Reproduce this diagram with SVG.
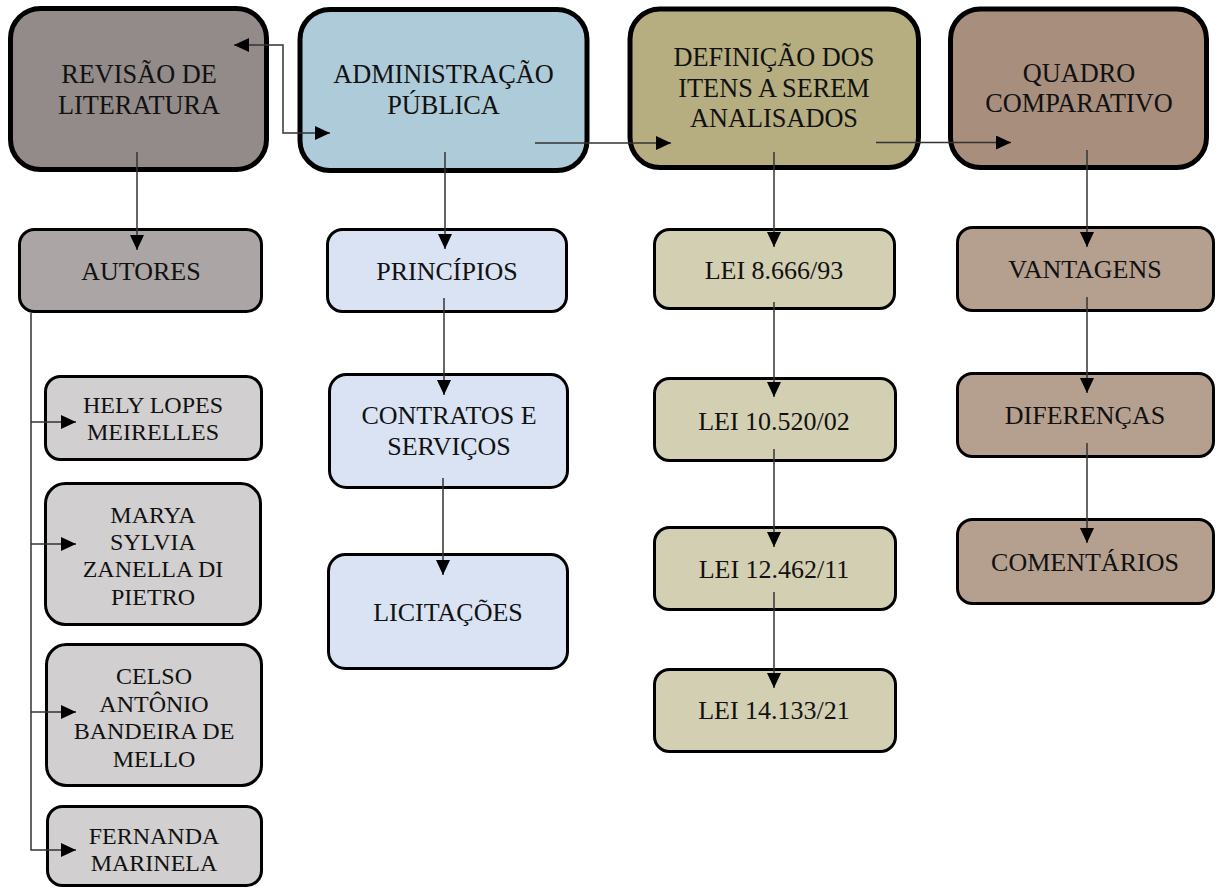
<svg xmlns="http://www.w3.org/2000/svg" width="1216" height="888" viewBox="0 0 1216 888">
<style>
.top{stroke:#000;stroke-width:5}
.sub{stroke:#000;stroke-width:3}
text{font-family:"Liberation Serif","Times New Roman",serif;fill:#111;text-anchor:middle}
.t1{font-size:26.3px}
.t2{font-size:26px}
.t3{font-size:24px}
.c{fill:none;stroke:#333;stroke-width:1.5}
</style>
<defs>
<marker id="ah" viewBox="0 0 15 14" refX="15" refY="7" markerWidth="15" markerHeight="14" markerUnits="userSpaceOnUse" orient="auto-start-reverse">
<path d="M0,0 L15,7 L0,14 z" fill="#000"/>
</marker>
</defs>
<rect width="1216" height="888" fill="#fff"/>

<g id="revisao">
<rect class="top" x="10.5" y="8.5" width="256" height="161" rx="30" fill="#928b8a"/>
<text class="t1" x="139" y="83">REVISÃO DE</text>
<text class="t1" x="139" y="114">LITERATURA</text>
</g>
<g id="administracao">
<rect class="top" x="300" y="9.5" width="287" height="161" rx="30" fill="#aecbd9"/>
<text class="t1" x="443.5" y="83">ADMINISTRAÇÃO</text>
<text class="t1" x="443.5" y="114">PÚBLICA</text>
</g>
<g id="definicao">
<rect class="top" x="630" y="9" width="288.5" height="158.5" rx="30" fill="#b6ad80"/>
<text class="t1" x="774" y="66">DEFINIÇÃO DOS</text>
<text class="t1" x="774" y="97">ITENS A SEREM</text>
<text class="t1" x="774" y="127">ANALISADOS</text>
</g>
<g id="quadro">
<rect class="top" x="950.5" y="9" width="256" height="158.5" rx="30" fill="#a88e7d"/>
<text class="t1" x="1079" y="82">QUADRO</text>
<text class="t1" x="1079" y="112">COMPARATIVO</text>
</g>

<g id="autores">
<rect class="sub" x="19.5" y="229.5" width="242" height="82" rx="15" fill="#aba6a5"/>
<text class="t2" x="141" y="280">AUTORES</text>
</g>
<g id="hely">
<rect class="sub" x="45.5" y="376.5" width="216" height="83" rx="15" fill="#d1cfd0"/>
<text class="t3" x="153" y="413">HELY LOPES</text>
<text class="t3" x="153" y="440">MEIRELLES</text>
</g>
<g id="marya">
<rect class="sub" x="45.5" y="483.5" width="215" height="141" rx="20" fill="#d1cfd0"/>
<text class="t3" x="153" y="522.5">MARYA</text>
<text class="t3" x="153" y="549.5">SYLVIA</text>
<text class="t3" x="153" y="577">ZANELLA DI</text>
<text class="t3" x="153" y="605">PIETRO</text>
</g>
<g id="celso">
<rect class="sub" x="46.5" y="644.5" width="215" height="141" rx="20" fill="#d1cfd0"/>
<text class="t3" x="154" y="683.5">CELSO</text>
<text class="t3" x="154" y="711.5">ANTÔNIO</text>
<text class="t3" x="154" y="739">BANDEIRA DE</text>
<text class="t3" x="154" y="767">MELLO</text>
</g>
<g id="fernanda">
<rect class="sub" x="47.5" y="806.5" width="214" height="79" rx="15" fill="#d1cfd0"/>
<text class="t3" x="154" y="844">FERNANDA</text>
<text class="t3" x="154" y="871">MARINELA</text>
</g>

<g id="principios">
<rect class="sub" x="327.5" y="229.5" width="239" height="82" rx="15" fill="#d9e3f3"/>
<text class="t2" x="447" y="280">PRINCÍPIOS</text>
</g>
<g id="contratos">
<rect class="sub" x="329.5" y="374.5" width="238" height="113" rx="17" fill="#d9e3f3"/>
<text class="t2" x="449" y="424">CONTRATOS E</text>
<text class="t2" x="449" y="455">SERVIÇOS</text>
</g>
<g id="licitacoes">
<rect class="sub" x="328.5" y="554.5" width="239" height="114" rx="17" fill="#d9e3f3"/>
<text class="t2" x="448" y="621">LICITAÇÕES</text>
</g>

<g id="lei8666">
<rect class="sub" x="654.5" y="229.5" width="240" height="79" rx="15" fill="#d3cfb2"/>
<text class="t2" x="774" y="279">LEI 8.666/93</text>
</g>
<g id="lei10520">
<rect class="sub" x="654.5" y="378.5" width="241" height="82" rx="15" fill="#d3cfb2"/>
<text class="t2" x="774" y="430">LEI 10.520/02</text>
</g>
<g id="lei12462">
<rect class="sub" x="654.5" y="527.5" width="241" height="82" rx="15" fill="#d3cfb2"/>
<text class="t2" x="774" y="578">LEI 12.462/11</text>
</g>
<g id="lei14133">
<rect class="sub" x="654.5" y="669.5" width="241" height="82" rx="15" fill="#d3cfb2"/>
<text class="t2" x="774" y="719">LEI 14.133/21</text>
</g>

<g id="vantagens">
<rect class="sub" x="957.5" y="227.5" width="256" height="83" rx="15" fill="#b5a090"/>
<text class="t2" x="1085" y="278">VANTAGENS</text>
</g>
<g id="diferencas">
<rect class="sub" x="957.5" y="373.5" width="256" height="83" rx="15" fill="#b5a090"/>
<text class="t2" x="1085" y="424">DIFERENÇAS</text>
</g>
<g id="comentarios">
<rect class="sub" x="957.5" y="519.5" width="256" height="84" rx="15" fill="#b5a090"/>
<text class="t2" x="1085" y="571">COMENTÁRIOS</text>
</g>

<g id="connectors">
<path class="c" d="M234,45 H283 V133 H330" marker-start="url(#ah)" marker-end="url(#ah)"/>
<path class="c" d="M535,143 H671" marker-end="url(#ah)"/>
<path class="c" d="M876,142.5 H1011" marker-end="url(#ah)"/>
<path class="c" d="M137,152 V250" marker-end="url(#ah)"/>
<path class="c" d="M445,152 V249" marker-end="url(#ah)"/>
<path class="c" d="M774,152 V247" marker-end="url(#ah)"/>
<path class="c" d="M1087,150 V247" marker-end="url(#ah)"/>
<path class="c" d="M444,298 V395" marker-end="url(#ah)"/>
<path class="c" d="M443,478 V575" marker-end="url(#ah)"/>
<path class="c" d="M774,302 V397" marker-end="url(#ah)"/>
<path class="c" d="M774,449 V547" marker-end="url(#ah)"/>
<path class="c" d="M774,592 V688" marker-end="url(#ah)"/>
<path class="c" d="M1087,297 V393" marker-end="url(#ah)"/>
<path class="c" d="M1087,443 V543" marker-end="url(#ah)"/>
<path class="c" d="M31,313 V850 H76" marker-end="url(#ah)"/>
<path class="c" d="M31,422 H76" marker-end="url(#ah)"/>
<path class="c" d="M31,544 H76" marker-end="url(#ah)"/>
<path class="c" d="M31,712 H76" marker-end="url(#ah)"/>
</g>
</svg>
